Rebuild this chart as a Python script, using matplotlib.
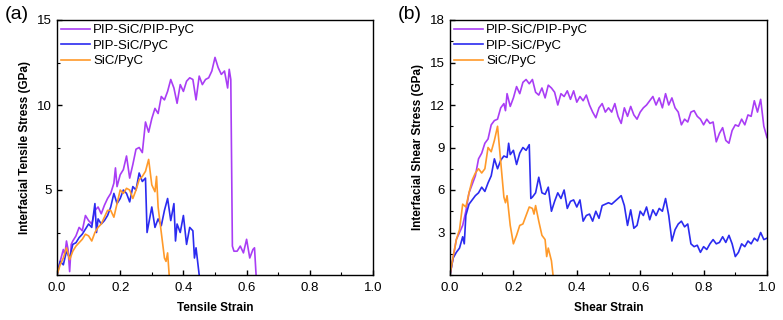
import matplotlib.pyplot as plt
import numpy as np
from matplotlib.ticker import MultipleLocator

# ---- panel (a): tensile ----
a_pp_x = [0.0, 0.01, 0.02, 0.025, 0.03, 0.035, 0.04, 0.045, 0.05, 0.06, 0.07, 0.08, 0.09, 0.10, 0.11, 0.12,
          0.13, 0.14, 0.15, 0.16, 0.17, 0.18, 0.185, 0.19, 0.20, 0.21, 0.22, 0.23, 0.24, 0.25, 0.26, 0.27,
          0.28, 0.29, 0.30, 0.31, 0.32, 0.33, 0.34, 0.35, 0.36, 0.37, 0.38, 0.39, 0.40, 0.41, 0.42, 0.43,
          0.44, 0.45, 0.46, 0.47, 0.48, 0.49, 0.50, 0.51, 0.52, 0.53, 0.54, 0.545, 0.55, 0.555, 0.56, 0.57,
          0.58, 0.59, 0.60, 0.61, 0.62, 0.625, 0.63]
a_pp_y = [0.0, 0.8, 1.5, 1.2, 2.0, 1.5, 0.2, 1.8, 2.0, 2.3, 2.8, 2.6, 3.5, 3.2, 3.0, 3.8,
          4.0, 3.6, 4.1, 4.5, 4.8, 5.4, 6.3, 5.2, 5.9, 6.2, 7.0, 5.7, 6.5, 7.4, 7.5, 7.2,
          9.0, 8.4, 9.2, 9.8, 9.5, 10.5, 10.3, 10.8, 11.5, 11.0, 10.1, 11.2, 10.8, 11.4, 11.6, 11.5,
          10.3, 11.7, 11.2, 11.5, 11.6, 12.0, 12.8, 12.2, 11.8, 12.0, 11.0, 12.1, 11.5, 1.7, 1.4, 1.4,
          1.7, 1.3, 2.1, 1.0, 1.5, 1.6, 0.0]

a_ps_x = [0.0, 0.01, 0.02, 0.03, 0.04, 0.05, 0.06, 0.07, 0.08, 0.09, 0.10, 0.11, 0.12, 0.125, 0.13, 0.14,
          0.15, 0.16, 0.17, 0.18, 0.19, 0.20, 0.21, 0.22, 0.23, 0.24, 0.25, 0.26, 0.27, 0.28, 0.285, 0.30,
          0.31, 0.32, 0.33, 0.34, 0.35, 0.36, 0.37, 0.375, 0.38, 0.39, 0.40, 0.41, 0.42, 0.43, 0.435, 0.44, 0.45]
a_ps_y = [0.0, 0.8, 0.6, 1.4, 1.0, 1.8, 1.9, 2.2, 2.4, 2.7, 3.0, 2.8, 4.2, 2.5, 3.3, 3.0,
          3.2, 3.5, 4.0, 4.8, 4.2, 4.5, 5.0, 4.8, 4.3, 5.2, 5.0, 6.0, 5.5, 5.7, 2.5, 4.0,
          2.8, 3.3, 2.9, 3.8, 4.5, 3.2, 4.2, 2.0, 3.0, 2.5, 3.5, 1.8, 2.8, 2.6, 1.0, 1.6, 0.0]

a_sp_x = [0.0, 0.01, 0.02, 0.03, 0.04, 0.05, 0.06, 0.07, 0.08, 0.09, 0.10, 0.11, 0.12, 0.13, 0.14, 0.15,
          0.16, 0.17, 0.18, 0.19, 0.20, 0.21, 0.22, 0.23, 0.24, 0.25, 0.26, 0.27, 0.28, 0.29, 0.30, 0.31,
          0.315, 0.32, 0.33, 0.34, 0.345, 0.35, 0.355]
a_sp_y = [0.0, 0.6, 1.0, 1.6, 0.9, 1.4, 1.7, 1.9, 2.1, 2.4, 2.3, 2.0, 2.5, 2.8, 3.0, 3.4,
          3.8, 3.8, 3.4, 4.2, 5.0, 4.8, 5.1, 5.0, 4.5, 5.0, 5.6, 5.8, 6.1, 6.8, 5.3, 4.9,
          5.8, 4.0, 2.5, 1.0, 0.8, 1.3, 0.0]

# ---- panel (b): shear ----
b_pp_x = [0.0, 0.02, 0.04, 0.05, 0.06, 0.08, 0.09, 0.10, 0.11, 0.12, 0.13, 0.14, 0.15, 0.16, 0.17, 0.175,
          0.18, 0.19, 0.20, 0.21, 0.22, 0.23, 0.24, 0.25, 0.26, 0.27, 0.28, 0.29, 0.30, 0.31, 0.32, 0.33,
          0.34, 0.35, 0.36, 0.37, 0.38, 0.39, 0.40, 0.41, 0.42, 0.43, 0.44, 0.45, 0.46, 0.47, 0.48, 0.49,
          0.50, 0.51, 0.52, 0.53, 0.54, 0.55, 0.56, 0.57, 0.58, 0.59, 0.60, 0.61, 0.62, 0.63, 0.64, 0.65,
          0.66, 0.67, 0.68, 0.69, 0.70, 0.71, 0.72, 0.73, 0.74, 0.75, 0.76, 0.77, 0.78, 0.79, 0.80, 0.81,
          0.82, 0.83, 0.84, 0.85, 0.86, 0.87, 0.88, 0.89, 0.90, 0.91, 0.92, 0.93, 0.94, 0.95, 0.96, 0.97,
          0.98, 0.99, 1.0]
b_pp_y = [0.0, 2.5, 3.5, 4.5, 5.8, 7.0, 8.2, 8.6, 9.3, 9.6, 10.6, 10.9, 11.0, 11.8, 12.1, 11.6,
          12.8, 11.9, 12.5, 13.3, 12.8, 13.6, 13.8, 13.5, 13.8, 12.9, 12.7, 13.2, 12.5, 13.4, 13.2, 12.9,
          12.0, 12.8, 12.6, 13.0, 12.4, 13.0, 12.2, 12.6, 12.3, 12.7, 12.0, 11.5, 11.1, 11.8, 12.1, 11.5,
          11.8, 11.5, 12.1, 11.2, 10.7, 11.8, 11.2, 11.9, 11.3, 11.0, 11.5, 11.8, 12.0, 12.3, 12.6, 12.0,
          12.5, 11.8, 12.8, 12.0, 12.5, 11.8, 11.5, 10.6, 11.0, 10.8, 11.5, 11.6, 11.2, 11.0, 10.6, 11.0,
          10.7, 10.8, 9.4, 10.0, 10.4, 9.5, 9.3, 10.2, 10.6, 10.5, 11.0, 10.6, 11.3, 11.2, 12.3, 11.5,
          12.4, 10.5, 9.7]

b_ps_x = [0.0, 0.01, 0.02, 0.03, 0.04, 0.045, 0.05, 0.06, 0.07, 0.08, 0.09, 0.10, 0.11, 0.12, 0.13, 0.14,
          0.15, 0.16, 0.17, 0.18, 0.185, 0.19, 0.20, 0.21, 0.22, 0.23, 0.24, 0.25, 0.255, 0.26, 0.27, 0.28,
          0.29, 0.30, 0.31, 0.32, 0.33, 0.34, 0.35, 0.36, 0.37, 0.38, 0.39, 0.40, 0.41, 0.42, 0.43, 0.44,
          0.45, 0.46, 0.47, 0.48, 0.49, 0.50, 0.51, 0.52, 0.53, 0.54, 0.55, 0.56, 0.57, 0.58, 0.59, 0.60,
          0.61, 0.62, 0.63, 0.64, 0.65, 0.66, 0.67, 0.68, 0.69, 0.70, 0.71, 0.72, 0.73, 0.74, 0.75, 0.76,
          0.77, 0.78, 0.79, 0.80, 0.81, 0.82, 0.83, 0.84, 0.85, 0.86, 0.87, 0.88, 0.89, 0.90, 0.91, 0.92,
          0.93, 0.94, 0.95, 0.96, 0.97, 0.98, 0.99, 1.0]
b_ps_y = [0.0, 1.2, 1.6, 1.9, 2.7, 2.2, 4.2, 5.0, 5.3, 5.6, 5.8, 6.2, 5.9, 6.5, 7.0, 8.2,
          7.5, 8.1, 8.4, 8.3, 9.3, 8.5, 8.8, 7.8, 8.6, 9.0, 8.8, 9.2, 5.4, 5.5, 5.8, 6.9,
          5.8, 5.7, 6.2, 4.5, 5.2, 5.8, 5.4, 6.0, 4.7, 5.2, 5.3, 4.8, 5.3, 3.8, 4.2, 4.3,
          3.8, 4.5, 4.0, 4.9, 5.0, 5.1, 5.0, 5.2, 5.4, 5.6, 4.9, 3.5, 4.6, 3.3, 3.5, 4.5,
          4.2, 4.8, 3.9, 4.6, 4.2, 4.7, 4.5, 5.4, 4.2, 2.4, 3.2, 3.6, 3.8, 3.4, 3.6, 2.2,
          2.0, 2.1, 1.6, 2.0, 1.8, 2.2, 2.5, 2.2, 2.3, 2.7, 2.3, 2.8, 2.2, 1.3, 1.6, 2.2,
          2.0, 2.4, 2.2, 2.6, 2.4, 3.0, 2.5, 2.6]

b_sp_x = [0.0, 0.01, 0.02, 0.03, 0.04, 0.05, 0.06, 0.07, 0.08, 0.09, 0.10, 0.11, 0.12, 0.13, 0.14, 0.15,
          0.16, 0.17, 0.175, 0.18, 0.19, 0.20, 0.21, 0.22, 0.23, 0.24, 0.25, 0.26, 0.265, 0.27, 0.28, 0.29,
          0.30, 0.305, 0.31, 0.32, 0.325]
b_sp_y = [0.0, 1.3, 2.5, 3.2, 5.0, 4.8, 5.8, 6.7, 7.2, 7.5, 7.2, 7.5, 9.0, 8.7, 9.5, 10.5,
          8.0, 5.5, 5.1, 5.6, 3.5, 2.2, 2.8, 3.5, 3.6, 4.2, 4.8, 4.7, 4.3, 4.9, 3.8, 2.8,
          2.5, 1.3, 1.9, 1.0, 0.0]

labels = ["PIP-SiC/PIP-PyC", "PIP-SiC/PyC", "SiC/PyC"]
colors = ["#A93DF5", "#2B2BF0", "#FF9A2A"]

plt.rcParams["font.family"] = ["Liberation Sans", "DejaVu Sans"]
plt.rcParams["xtick.direction"] = "in"
plt.rcParams["ytick.direction"] = "in"

fig = plt.figure(figsize=(7.83, 3.2), dpi=100)
ax_a = fig.add_axes([57 / 783, 45 / 320, 316 / 783, 255 / 320])
ax_b = fig.add_axes([450 / 783, 45 / 320, 317 / 783, 255 / 320])

panels = [
    (ax_a, [(a_pp_x, a_pp_y), (a_ps_x, a_ps_y), (a_sp_x, a_sp_y)], 15, 5,
     "Interfacial Tensile Stress (GPa)", "Tensile Strain", "(a)"),
    (ax_b, [(b_pp_x, b_pp_y), (b_ps_x, b_ps_y), (b_sp_x, b_sp_y)], 18, 3,
     "Interfacial Shear Stress (GPa)", "Shear Strain", "(b)"),
]

for ax, series, ymax, ystep, ylab, xlab, tag in panels:
    for (xs, ys), lab, c in zip(series, labels, colors):
        ax.plot(xs, ys, color=c, lw=1.2, label=lab)
    ax.set_xlim(0, 1.0)
    ax.set_ylim(0, ymax)
    ax.set_yticks(np.arange(ystep, ymax + 0.1, ystep))
    ax.xaxis.set_major_locator(MultipleLocator(0.2))
    ax.xaxis.set_minor_locator(MultipleLocator(0.1))
    ax.yaxis.set_minor_locator(MultipleLocator(ystep / 2))
    ax.xaxis.set_major_formatter(plt.FormatStrFormatter("%.1f"))
    ax.tick_params(which="major", length=3.5, width=1, labelsize=9.5)
    ax.tick_params(axis="x", which="major", pad=5)
    ax.tick_params(axis="y", which="major", pad=4)
    ax.tick_params(which="minor", length=2, width=0.8)
    for sp in ax.spines.values():
        sp.set_linewidth(1.0)
    ax.set_ylabel(ylab, fontsize=8.5, fontweight="bold", labelpad=4)
    ax.set_xlabel(xlab, fontsize=8.5, fontweight="bold", labelpad=6)
    ax.text(-0.165, 1.02, tag, transform=ax.transAxes, fontsize=14, va="center", ha="left")
    ax.legend(loc="upper left", bbox_to_anchor=(0, 1.0), frameon=False, borderaxespad=0,
              borderpad=0.3, handlelength=2.2, handletextpad=0.25, labelspacing=0.25, fontsize=9.5)

fig.savefig("out.png", dpi=100)
